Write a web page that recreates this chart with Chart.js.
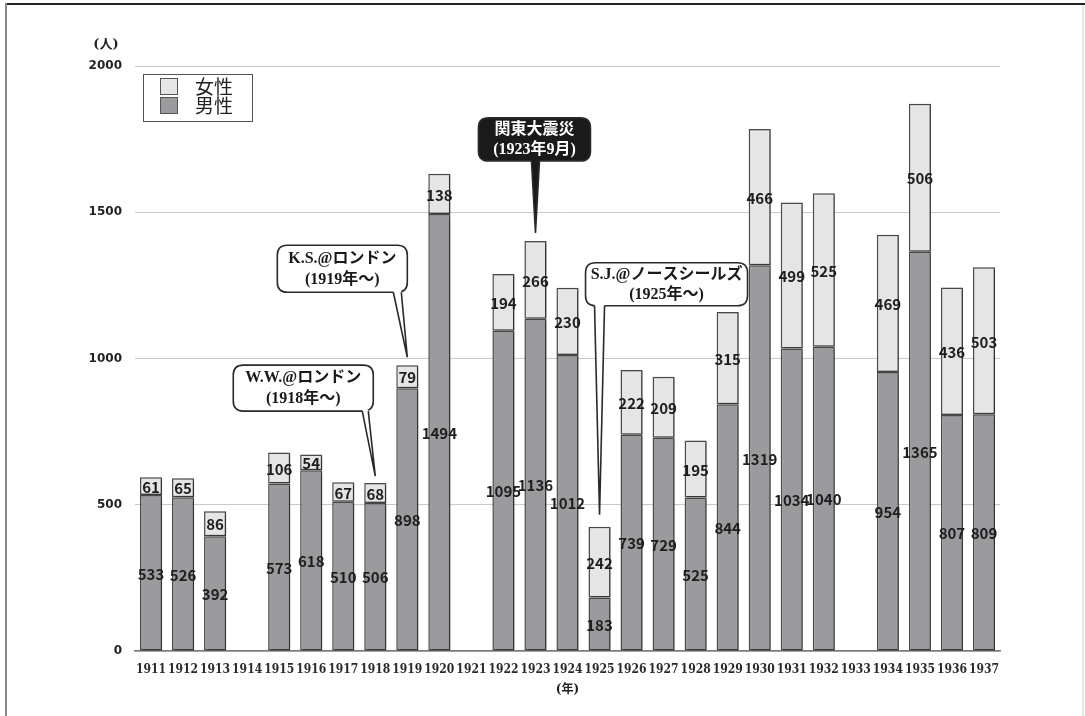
<!DOCTYPE html>
<html><head><meta charset="utf-8">
<script src="https://cdn.jsdelivr.net/npm/chart.js@4.4.1/dist/chart.umd.min.js"></script>
<style>
html,body{margin:0;padding:0;background:#fff;}
#wrap{position:relative;width:1085px;height:716px;overflow:hidden;background:#fff;}
canvas{position:absolute;left:0;top:0;}
.fr{position:absolute;}
</style></head><body>
<div id="wrap">
<canvas id="c" width="1085" height="716"></canvas>
<div class="fr" style="left:5px;top:3px;width:1080px;height:2px;background:#222;"></div>
<div class="fr" style="left:5px;top:3px;width:2px;height:713px;background:#8a8a8a;"></div>
<div class="fr" style="left:1082px;top:5px;width:2px;height:711px;background:#e6e6e6;"></div>
</div>
<script>
// ---- data ----
const years = ['1911','1912','1913','1914','1915','1916','1917','1918','1919','1920','1921','1922','1923','1924','1925','1926','1927','1928','1929','1930','1931','1932','1933','1934','1935','1936','1937'];
const male   = [533,526,392,null,573,618,510,506,898,1494,null,1095,1136,1012,183,739,729,525,844,1319,1034,1040,null,954,1365,807,809];
const female = [61,65,86,null,106,54,67,68,79,138,null,194,266,230,242,222,209,195,315,466,499,525,null,469,506,436,503];
const yTicks = [0,500,1000,1500,2000];
const seriesNames = ['男性','女性'];
const legendOrder = ['女性','男性'];
const calloutYears = ['1923','1919','1918','1925'];
const calloutTexts = [['関東大震災','(1923年9月)'],['K.S.@ロンドン','(1919年～)'],['W.W.@ロンドン','(1918年～)'],['S.J.@ノースシールズ','(1925年～)']];

// ---- styles ----
const MALE_COLOR = '#9b9b9d';
const FEMALE_COLOR = '#e5e5e6';
const EDGE = '#4a4a4a';
// callout layout (pixel offsets relative to the tip)
const calloutStyle = [
  {dark:true,  gap:8,  dx:-57,  dy:-115, w:112, h:43, b1:-4, b2:4},
  {dark:false, gap:8,  dx:-130, dy:-112, w:130, h:47, b1:-14, b2:-6},
  {dark:false, gap:7,  dx:-142, dy:-111, w:140, h:46, b1:-13, b2:-7},
  {dark:false, gap:12, dx:-14,  dy:-252, w:162, h:43, b1:-5, b2:5},
];

function roundRect(ctx,x,y,w,h,r){
  ctx.beginPath();
  ctx.moveTo(x+r,y);
  ctx.lineTo(x+w-r,y); ctx.quadraticCurveTo(x+w,y,x+w,y+r);
  ctx.lineTo(x+w,y+h-r); ctx.quadraticCurveTo(x+w,y+h,x+w-r,y+h);
  ctx.lineTo(x+r,y+h); ctx.quadraticCurveTo(x,y+h,x,y+h-r);
  ctx.lineTo(x,y+r); ctx.quadraticCurveTo(x,y,x+r,y);
  ctx.closePath();
}

const decor = {
  id:'decor',
  beforeDatasetsDraw(chart){
    const ctx=chart.ctx; ctx.save();
    ctx.shadowColor='rgba(0,0,0,0.35)'; ctx.shadowOffsetX=2; ctx.shadowOffsetY=1; ctx.shadowBlur=2;
  },
  afterDatasetsDraw(chart){
    const ctx=chart.ctx; ctx.restore();
    // value labels
    ctx.save();
    ctx.font='bold 15px "Noto Sans CJK JP", "Noto Sans", sans-serif';
    ctx.fillStyle='#1e1e1e'; ctx.textAlign='center'; ctx.textBaseline='middle';
    chart.data.datasets.forEach((ds,di)=>{
      const meta=chart.getDatasetMeta(di);
      meta.data.forEach((el,i)=>{
        const v=ds.data[i]; if(v==null) return;
        ctx.fillText(String(v), el.x, (el.y+el.base)/2+1);
      });
    });
    ctx.restore();
  },
  afterDraw(chart){
    const ctx=chart.ctx, xs=chart.scales.x, ys=chart.scales.y;
    ctx.save();
    // (人)
    ctx.font='bold 13px "DejaVu Serif", "Noto Sans CJK JP", serif';
    ctx.fillStyle='#222'; ctx.textAlign='center'; ctx.textBaseline='middle';
    ctx.fillText('(人)', 106, 45);
    // legend
    ctx.lineWidth=1; ctx.strokeStyle='#555'; ctx.fillStyle='#fff';
    ctx.strokeRect(143.5,74.5,109,47);
    const cols={'女性':FEMALE_COLOR,'男性':MALE_COLOR};
    legendOrder.forEach((name,k)=>{
      const y=78+k*19;
      ctx.fillStyle=cols[name]; ctx.fillRect(160.5,y+0.5,17,16);
      ctx.strokeStyle='#555'; ctx.strokeRect(160.5,y+0.5,17,16);
      ctx.fillStyle='#222'; ctx.font='19px "Noto Sans CJK JP", sans-serif';
      ctx.textAlign='left'; ctx.textBaseline='middle';
      ctx.fillText(name,195,y+8.5);
    });
    // callouts
    calloutYears.forEach((yr,k)=>{
      const i=years.indexOf(yr), st=calloutStyle[k];
      const tx=xs.getPixelForValue(i);
      const ty=ys.getPixelForValue((male[i]||0)+(female[i]||0))-st.gap;
      const bx=tx+st.dx, by=ty+st.dy, bw=st.w, bh=st.h;
      const fill=st.dark?'#1a1a1a':'#fff';
      ctx.lineWidth=1.6; ctx.strokeStyle='#2a2a2a'; ctx.fillStyle=fill;
      roundRect(ctx,bx,by,bw,bh,10); ctx.fill(); ctx.stroke();
      // tail
      const b1=tx+st.b1, b2=tx+st.b2, byb=by+bh;
      ctx.beginPath(); ctx.moveTo(b1,byb-1.5); ctx.lineTo(tx,ty); ctx.lineTo(b2,byb-1.5); ctx.closePath();
      ctx.fillStyle=fill; ctx.fill();
      ctx.beginPath(); ctx.moveTo(b1,byb); ctx.lineTo(tx,ty); ctx.lineTo(b2,byb); ctx.stroke();
      // text
      ctx.fillStyle=st.dark?'#fff':'#1a1a1a';
      ctx.font='bold 16px "Liberation Serif", "Noto Sans CJK JP", serif';
      ctx.textAlign='center'; ctx.textBaseline='middle';
      const lines=calloutTexts[k];
      ctx.fillText(lines[0], bx+bw/2, by+bh*0.28);
      ctx.fillText(lines[1], bx+bw/2, by+bh*0.74);
    });
    ctx.restore();
  }
};

new Chart(document.getElementById('c'),{
  type:'bar',
  data:{labels:years,datasets:[
    {label:seriesNames[0],data:male,backgroundColor:MALE_COLOR,borderColor:EDGE,borderWidth:1.5,borderSkipped:false},
    {label:seriesNames[1],data:female,backgroundColor:FEMALE_COLOR,borderColor:EDGE,borderWidth:1.5,borderSkipped:false}
  ]},
  options:{
    responsive:false, animation:false, devicePixelRatio:1,
    categoryPercentage:1, barPercentage:0.69,
    layout:{padding:{left:0,right:85,top:66,bottom:0}},
    plugins:{legend:{display:false},tooltip:{enabled:false}},
    scales:{
      x:{stacked:true,
        grid:{display:false},
        border:{display:true,color:'#7a7a7a',width:1.5},
        ticks:{font:{family:'"DejaVu Serif Condensed", "DejaVu Serif", serif',weight:'bold',size:12},color:'#2a2a2a',padding:4,maxRotation:0,autoSkip:false},
        title:{display:true,text:'(年)',font:{family:'"DejaVu Serif","Noto Sans CJK JP", serif',weight:'bold',size:12},color:'#222',padding:{top:0,bottom:19}},
        afterFit(s){s.height=65;}
      },
      y:{stacked:true,min:0,max:2000,
        afterBuildTicks(s){s.ticks=yTicks.map(v=>({value:v}));},
        grid:{color:'#c8c8c8',lineWidth:1,drawTicks:false},
        border:{display:false},
        ticks:{font:{family:'"DejaVu Sans", sans-serif',weight:'bold',size:12},color:'#222',padding:13,callback:(v)=>String(v)},
        afterFit(s){s.width=135;}
      }
    }
  },
  plugins:[decor]
});
</script>
</body></html>
